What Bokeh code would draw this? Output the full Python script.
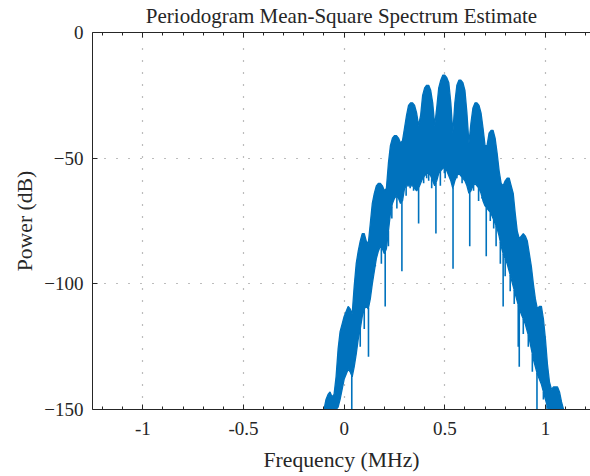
import numpy as np
from bokeh.plotting import figure
from bokeh.models import (LinearAxis, Range1d, SingleIntervalTicker, Grid,
                          CustomLabelingPolicy)
from bokeh.embed import file_html
from bokeh.resources import INLINE

# ---------------- data ----------------
freq_mhz = np.round(np.arange(-0.10, 1.095, 0.01), 2)   # sample grid, 0.01 MHz

upper_db = [
    -150, -146, -144, -143, -145, -144, -137, -126, -119, -116,   # -0.10 .. -0.01
    -113, -111, -109, -110, -112, -101, -92, -87, -83, -80,        # 0.00 .. 0.09
    -80, -83, -84, -76, -68, -64, -61, -60, -60, -61,              # 0.10 .. 0.19
    -63, -62, -52, -45, -42, -41, -41, -42, -44, -43,              # 0.20 .. 0.29
    -38, -33, -29, -28, -28, -29, -32, -37, -33, -25,              # 0.30 .. 0.39
    -22, -21, -21, -23, -28, -37, -30, -22, -19, -17,              # 0.40 .. 0.49
    -17, -18, -20, -28, -40, -28, -21, -19, -19, -20,              # 0.50 .. 0.59
    -23, -32, -44, -36, -30, -28, -28, -29, -32, -38,              # 0.60 .. 0.69
    -45, -45, -40, -39, -39, -42, -48, -55, -60, -61,              # 0.70 .. 0.79
    -59, -58, -58, -61, -64, -72, -79, -82, -81, -80,              # 0.80 .. 0.89
    -81, -83, -88, -93, -100, -106, -110, -109, -109, -114,        # 0.90 .. 0.99
    -122, -132, -139, -142, -141, -141, -141, -143, -147, -150,    # 1.00 .. 1.09
]

lower_db = [
    -150, -150, -150, -150, -150, -150, -150, -149, -146, -142,    # -0.10 .. -0.01
    -138, -136, -134, -135, -137, -133, -128, -122, -118, -113,    # 0.00 .. 0.09
    -110, -109, -110, -106, -100, -95, -90, -87, -85, -86,         # 0.10 .. 0.19
    -88, -86, -79, -72, -68, -66, -65, -66, -68, -67,              # 0.20 .. 0.29
    -62, -61, -61, -61, -61, -62, -63, -62, -60, -58,              # 0.30 .. 0.39
    -57, -56, -56, -57, -59, -61, -59, -56, -55, -54,              # 0.40 .. 0.49
    -54, -55, -57, -59, -62, -59, -57, -56, -57, -58,              # 0.50 .. 0.59
    -59, -61, -64, -63, -61, -60, -61, -62, -64, -67,              # 0.60 .. 0.69
    -69, -70, -71, -72, -74, -76, -78, -81, -85, -88,              # 0.70 .. 0.79
    -90, -92, -95, -98, -101, -104, -107, -110, -112, -114,        # 0.80 .. 0.89
    -116, -119, -122, -126, -130, -133, -136, -138, -140, -143,    # 0.90 .. 0.99
    -146, -149, -150, -150, -150, -150, -150, -150, -150, -150,    # 1.00 .. 1.09
]

# narrow dips below the band
spike_mhz = [0.038, 0.080, 0.100, 0.121, 0.155, 0.185, 0.204, 0.220, 0.237,
             0.262, 0.287, 0.308, 0.328, 0.345, 0.370, 0.395, 0.410, 0.420,
             0.435, 0.456, 0.478, 0.498, 0.502, 0.541, 0.560, 0.586, 0.624,
             0.637, 0.643, 0.668, 0.685, 0.706, 0.726, 0.743, 0.755, 0.776,
             0.790, 0.800, 0.825, 0.845, 0.865, 0.870, 0.890, 0.915, 0.935,
             0.958, 0.990, 1.008, 1.045]
spike_db = [-150, -125, -118, -129, -93, -92, -109, -85, -74,
            -70, -95, -65, -62, -63, -76, -60, -58, -59,
            -62, -80, -61, -56, -58, -94, -58, -60, -85,
            -60, -63, -67, -66, -89, -75, -78, -85, -92,
            -109, -97, -103, -108, -125, -133, -120, -125, -135,
            -150, -146, -150, -150]

x_ticks = [-1, -0.5, 0, 0.5, 1]
x_tick_labels = ["-1", "-0.5", "0", "0.5", "1"]
y_ticks = [-150, -100, -50, 0]

title_text = "Periodogram Mean-Square Spectrum Estimate"
x_label = "Frequency (MHz)"
y_label = "Power (dB)"

# ---------------- styling ----------------
FONT = "Liberation Serif"
AX = "#262626"
BLUE = "#0072BD"

p = figure(width=590, height=476,
           x_range=Range1d(-1.25, 1.2239), y_range=Range1d(y_ticks[0], y_ticks[-1]),
           x_axis_type=None, y_axis_type=None,
           output_backend="svg", toolbar_location=None,
           min_border_left=92, min_border_right=0,
           min_border_top=32, min_border_bottom=67)
p.outline_line_color = None
p.background_fill_color = "white"
p.border_fill_color = "white"

xt = SingleIntervalTicker(interval=0.5, num_minor_ticks=5)
yt = SingleIntervalTicker(interval=50, num_minor_ticks=0)


def style_axis(ax):
    ax.axis_line_color = AX
    ax.axis_line_width = 1
    ax.major_tick_line_color = AX
    ax.minor_tick_line_color = AX
    ax.major_tick_in = 5
    ax.major_tick_out = 0
    ax.minor_tick_in = 3
    ax.minor_tick_out = 0
    ax.major_label_text_font = FONT
    ax.major_label_text_font_size = "19px"
    ax.major_label_text_color = AX
    ax.axis_label_text_font = FONT
    ax.axis_label_text_font_size = "21.7px"
    ax.axis_label_text_font_style = "normal"
    ax.axis_label_text_color = AX


xb = LinearAxis(ticker=xt, axis_label=x_label)
style_axis(xb)
xb.major_label_overrides = {t: s for t, s in zip(x_ticks, x_tick_labels)}
xb.major_label_standoff = 12
xb.axis_label_standoff = 10
p.add_layout(xb, "below")

yl = LinearAxis(ticker=yt, axis_label=y_label)
style_axis(yl)
yl.minor_tick_line_color = None
yl.major_label_standoff = 9
yl.axis_label_standoff = 4
p.add_layout(yl, "left")

# top spine with ticks only; the chart title is carried as its label
xa = LinearAxis(ticker=xt, axis_label=title_text)
style_axis(xa)
xa.major_label_text_font_size = "0px"
xa.major_label_standoff = 0
xa.major_label_policy = CustomLabelingPolicy(code="""
for (const i of indices)
    indices.unset(i)
return indices
""")
xa.axis_label_text_font_size = "21px"
xa.axis_label_standoff = 5
p.add_layout(xa, "above")

for dim, tk in ((0, xt), (1, yt)):
    g = Grid(dimension=dim, ticker=tk)
    g.grid_line_color = "#7a7a7a"
    g.grid_line_width = 1.2
    g.grid_line_dash = "1 11"
    p.add_layout(g)

# band of the spectrum
p.varea(x=freq_mhz, y1=lower_db, y2=upper_db, fill_color=BLUE, fill_alpha=1.0)
p.line(freq_mhz, upper_db, line_color=BLUE, line_width=1.3)
p.line(freq_mhz, lower_db, line_color=BLUE, line_width=1.3)

spike_start = np.interp(spike_mhz, freq_mhz, lower_db)
p.segment(x0=spike_mhz, y0=spike_start, x1=spike_mhz, y1=spike_db,
          line_color=BLUE, line_width=1.6)

open("out.html", "w").write(file_html(p, INLINE))
